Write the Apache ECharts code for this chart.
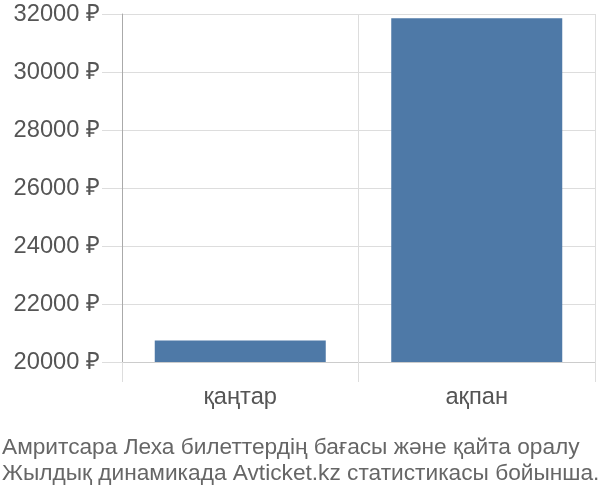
<!DOCTYPE html>
<html>
<head>
<meta charset="utf-8">
<script src="https://cdn.jsdelivr.net/npm/echarts@6/dist/echarts.min.js"></script>
<style>html,body{margin:0;padding:0;background:#fff}#c{width:600px;height:500px}</style>
</head>
<body>
<div id="c"></div>
<script>
var categories = ['қаңтар', 'ақпан'];
var prices = [20740, 31854];
var yTicks = { min: 20000, max: 32000, step: 2000 };
var titleLines = ['Амритсара Леха билеттердің бағасы және қайта оралу', 'Жылдық динамикада Avticket.kz статистикасы бойынша.'];

var chart = echarts.init(document.getElementById('c'), null, { renderer: 'canvas' });
chart.setOption({
  animation: false,
  textStyle: { fontFamily: 'Liberation Sans' },
  title: {
    text: titleLines.join('\n'),
    left: 2, top: 434, padding: 0,
    textStyle: { fontSize: 22.7, fontWeight: 'normal', color: '#666', lineHeight: 26.7, fontFamily: 'Liberation Sans' }
  },
  grid: { left: 122, right: 5, top: 14, bottom: 138 },
  xAxis: {
    type: 'category',
    data: categories,
    axisLine: { show: true, lineStyle: { color: '#ccc', width: 1 } },
    axisTick: { show: true, length: 20, lineStyle: { color: '#ddd' } },
    splitLine: { show: true, lineStyle: { color: '#ddd' } },
    axisLabel: { fontSize: 23.7, color: '#555', margin: 23 }
  },
  yAxis: {
    type: 'value',
    min: yTicks.min, max: yTicks.max, interval: yTicks.step,
    axisLine: { show: true, lineStyle: { color: '#aaa', width: 1 } },
    axisTick: { show: true, length: 20, lineStyle: { color: '#ddd' } },
    splitLine: { show: true, lineStyle: { color: '#ddd' } },
    axisLabel: { fontSize: 23.7, color: '#555', margin: 22, formatter: function (v) { return v + ' ₽'; } }
  },
  series: [{
    type: 'bar',
    data: prices,
    barWidth: 171,
    itemStyle: { color: '#4e79a7' }
  }]
});
</script>
</body>
</html>
